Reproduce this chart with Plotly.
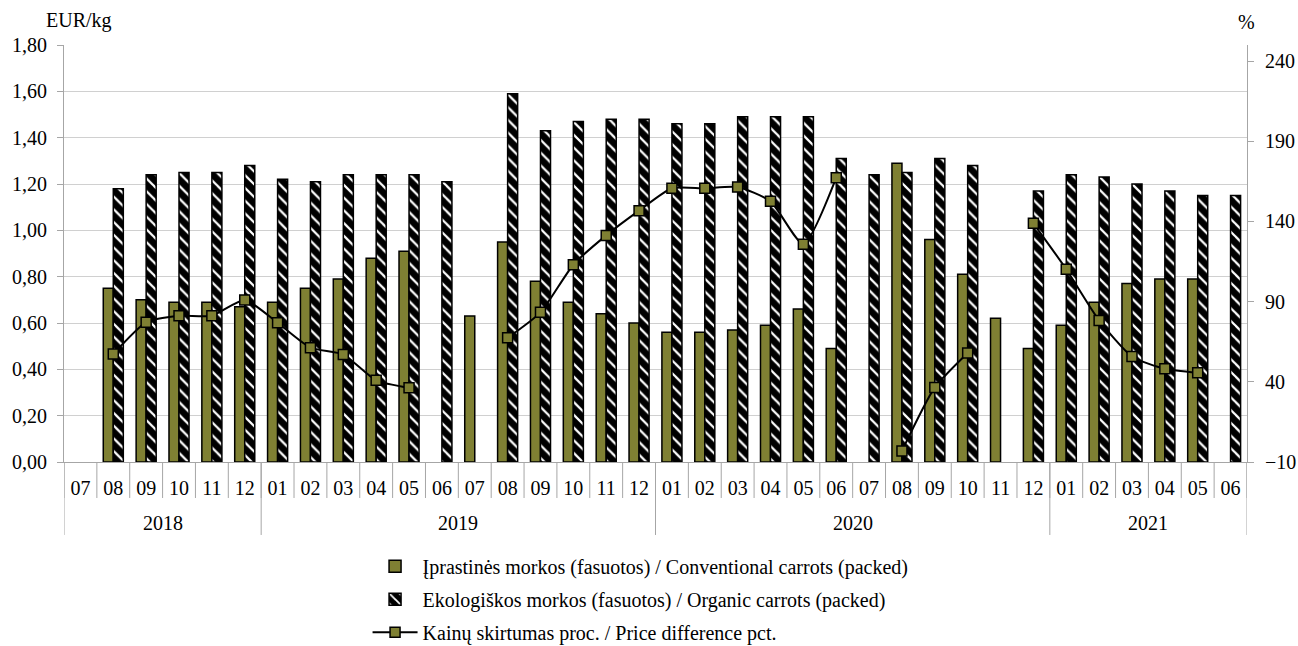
import plotly.graph_objects as go

years = ["2018", "2019", "2020", "2021"]
year_months = [
    ["07", "08", "09", "10", "11", "12"],
    ["01", "02", "03", "04", "05", "06", "07", "08", "09", "10", "11", "12"],
    ["01", "02", "03", "04", "05", "06", "07", "08", "09", "10", "11", "12"],
    ["01", "02", "03", "04", "05", "06"],
]

conventional = [None, 0.75, 0.70, 0.69, 0.69, 0.67,
                0.69, 0.75, 0.79, 0.88, 0.91, None, 0.63, 0.95, 0.78, 0.69, 0.64, 0.60,
                0.56, 0.56, 0.57, 0.59, 0.66, 0.49, None, 1.29, 0.96, 0.81, 0.62, 0.49,
                0.59, 0.69, 0.77, 0.79, 0.79, None]
organic = [None, 1.18, 1.24, 1.25, 1.25, 1.28,
           1.22, 1.21, 1.24, 1.24, 1.24, 1.21, None, 1.59, 1.43, 1.47, 1.48, 1.48,
           1.46, 1.46, 1.49, 1.49, 1.49, 1.31, 1.24, 1.25, 1.31, 1.28, None, 1.17,
           1.24, 1.23, 1.20, 1.17, 1.15, 1.15]
diff_pct = [None, 57.3, 77.1, 81.2, 81.2, 91.0,
            76.8, 61.3, 57.0, 40.9, 36.3, None, None, 67.4, 83.3, 113.0, 131.3, 146.7,
            160.7, 160.7, 161.4, 152.5, 125.8, 167.3, None, -3.1, 36.5, 58.0, None, 138.8,
            110.2, 78.3, 55.8, 48.1, 45.6, None]

names = ["Įprastinės morkos (fasuotos) / Conventional carrots (packed)",
         "Ekologiškos morkos (fasuotos) / Organic carrots (packed)",
         "Kainų skirtumas proc. / Price difference pct."]

cats = [f"{y}-{m}" for y, ms in zip(years, year_months) for m in ms]
month_labels = [m for ms in year_months for m in ms]

OLIVE = "#7f8033"
FONT = "Liberation Serif, Times New Roman, serif"
FS = 20
GRID = "#d0d0d0"
AXIS = "#a6a6a6"

fig = go.Figure()
fig.add_trace(go.Bar(
    x=cats, y=conventional, name=names[0],
    marker=dict(color=OLIVE, line=dict(color="black", width=1.5)),
    legendgroup="a",
))
fig.add_trace(go.Bar(
    x=cats, y=organic, name=names[1],
    marker=dict(color="black", line=dict(color="black", width=1.5),
                pattern=dict(shape="\\", bgcolor="black", fgcolor="white",
                             size=9, solidity=0.25, fillmode="replace")),
    legendgroup="b",
))
fig.add_trace(go.Scatter(
    x=cats, y=diff_pct, name=names[2], yaxis="y2",
    mode="lines+markers", line=dict(color="black", width=2, shape="spline", smoothing=0.6),
    marker=dict(symbol="square", size=10, color=OLIVE, line=dict(color="black", width=1.5)),
    connectgaps=False, legendgroup="c",
))

n = len(cats)
shapes = []
for i in range(n + 1):
    shapes.append(dict(type="line", xref="x", yref="paper", x0=i - 0.5, x1=i - 0.5,
                       y0=0, y1=-0.0863, line=dict(color=AXIS, width=1)))
pos = -0.5
bounds = [pos]
for ms in year_months:
    pos += len(ms)
    bounds.append(pos)
for b in bounds:
    shapes.append(dict(type="line", xref="x", yref="paper", x0=b, x1=b,
                       y0=0, y1=-0.175, line=dict(color=AXIS, width=1)))

annotations = []
for y, a, b in zip(years, bounds[:-1], bounds[1:]):
    annotations.append(dict(x=(a + b) / 2, y=-0.146, xref="x", yref="paper",
                            text=y, showarrow=False, font=dict(family=FONT, size=FS, color="black"),
                            yanchor="middle"))
annotations.append(dict(x=0, y=1.0, xref="paper", yref="paper", xshift=15, yshift=25,
                        text="EUR/kg", showarrow=False, xanchor="center", yanchor="middle",
                        font=dict(family=FONT, size=FS, color="black")))
annotations.append(dict(x=1, y=1.0, xref="paper", yref="paper", yshift=23, xshift=-1,
                        text="%", showarrow=False, xanchor="center", yanchor="middle",
                        font=dict(family=FONT, size=FS, color="black")))

fig.update_layout(
    width=1298, height=646,
    margin=dict(l=64, r=51, t=45, b=184, autoexpand=False),
    paper_bgcolor="white", plot_bgcolor="white",
    separators=", ",
    barmode="group", bargap=0.39, bargroupgap=0,
    font=dict(family=FONT, size=FS, color="black"),
    xaxis=dict(type="category", categoryorder="array", categoryarray=cats,
               tickvals=cats, ticktext=month_labels, ticks="", showline=True,
               linecolor=AXIS, linewidth=1, showgrid=False, range=[-0.5, n - 0.5],
               ticklabelstandoff=8, tickfont=dict(family=FONT, size=FS), automargin=False),
    yaxis=dict(range=[0, 1.8], dtick=0.2, tickformat=".2f", showgrid=True, gridcolor=GRID,
               gridwidth=1, showline=True, linecolor=AXIS, ticks="outside", ticklen=6,
               tickcolor=AXIS, zeroline=False, tickfont=dict(family=FONT, size=FS),
               ticklabelstandoff=6, automargin=False),
    yaxis2=dict(range=[-10, 250], tickvals=[-10, 40, 90, 140, 190, 240], overlaying="y",
                side="right", showgrid=False, showline=True, linecolor=AXIS, ticks="outside",
                ticklen=6, tickcolor=AXIS, zeroline=False, tickfont=dict(family=FONT, size=FS),
                ticklabelstandoff=7, automargin=False),
    legend=dict(orientation="v", x=0.2566, xanchor="left", y=-0.203, yanchor="top",
                font=dict(family=FONT, size=FS), tracegroupgap=4, itemwidth=45,
                bgcolor="rgba(0,0,0,0)"),
    shapes=shapes, annotations=annotations,
)

fig.write_html("out.html", config={"displayModeBar": False},
               post_script="document.body.style.margin='0';document.body.style.padding='0';")
